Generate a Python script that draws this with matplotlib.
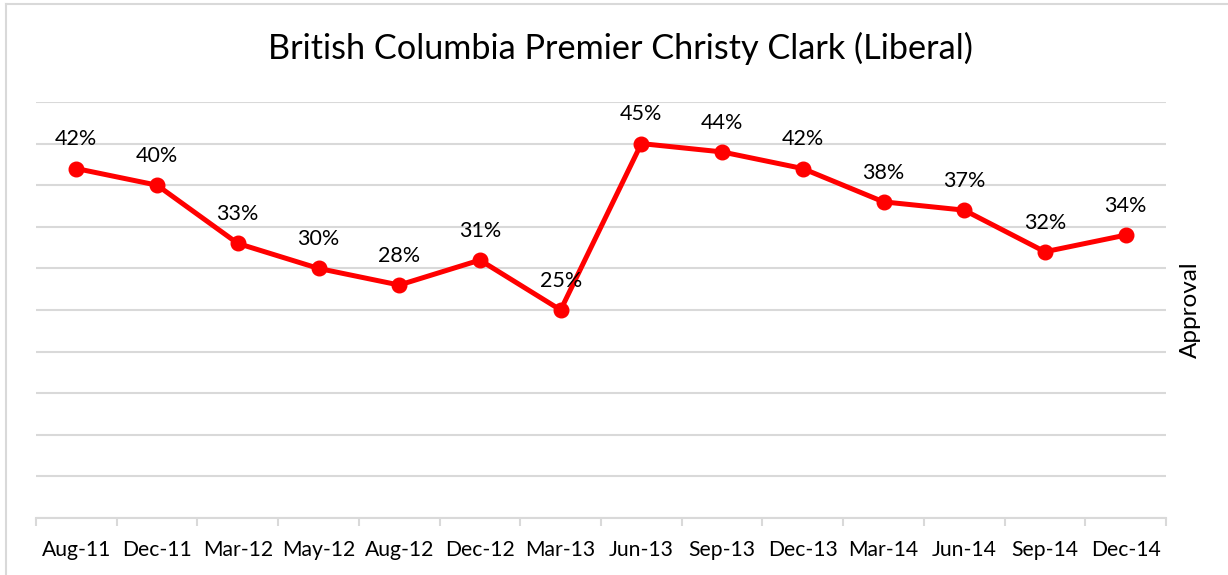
import numpy as np
import matplotlib.pyplot as plt
from matplotlib.lines import Line2D

plt.rcParams['font.family'] = ['Lato', 'DejaVu Sans']

months = ['Aug-11', 'Dec-11', 'Mar-12', 'May-12', 'Aug-12', 'Dec-12', 'Mar-13',
          'Jun-13', 'Sep-13', 'Dec-13', 'Mar-14', 'Jun-14', 'Sep-14', 'Dec-14']
approval = [42, 40, 33, 30, 28, 31, 25, 45, 44, 42, 38, 37, 32, 34]

fig = plt.figure(figsize=(12.28, 5.75), dpi=100)
ax = fig.add_axes([36 / 1228, 57 / 575, 1130 / 1228, 416 / 575])

x = np.arange(len(months))
ax.plot(x, approval, color='#FF0000', lw=3.6, marker='o', ms=10.5,
        solid_capstyle='round', zorder=3)
for xi, v in zip(x, approval):
    ax.annotate(f'{v}%', (xi, v), xytext=(0, 21), textcoords='offset points',
                ha='center', va='center', fontsize=15.5, color='#000000')

ax.set_xlim(-0.5, len(months) - 0.5)
ax.set_ylim(0, 50)
ax.set_yticks(np.arange(0, 51, 5))
ax.yaxis.grid(True, color='#D9D9D9', lw=1.5)
ax.set_axisbelow(True)
ax.tick_params(axis='y', length=0, labelleft=False)

ax.set_xticks(x)
ax.set_xticklabels(months, fontsize=15.2)
ax.set_xticks(np.arange(-0.5, len(months), 1), minor=True)
ax.tick_params(axis='x', which='major', length=0, pad=16)
ax.tick_params(axis='x', which='minor', length=6, width=1.5, color='#D9D9D9')

for s in ['top', 'right', 'left']:
    ax.spines[s].set_visible(False)
ax.spines['bottom'].set_color('#D9D9D9')
ax.spines['bottom'].set_linewidth(1.5)

ax.yaxis.set_label_position('right')
ax.set_ylabel('Approval', fontsize=17.5, labelpad=10)

fig.text(620 / 1228, 1 - 48 / 575, 'British Columbia Premier Christy Clark (Liberal)',
         ha='center', va='center', fontsize=24.7)

# chart area border (top and left edges visible)
fig.add_artist(Line2D([6 / 1228, 6 / 1228], [0, 1 - 4 / 575], color='#D9D9D9', lw=1.5))
fig.add_artist(Line2D([6 / 1228, 1], [1 - 4 / 575, 1 - 4 / 575], color='#D9D9D9', lw=1.5))

fig.savefig('out.png', dpi=100)
